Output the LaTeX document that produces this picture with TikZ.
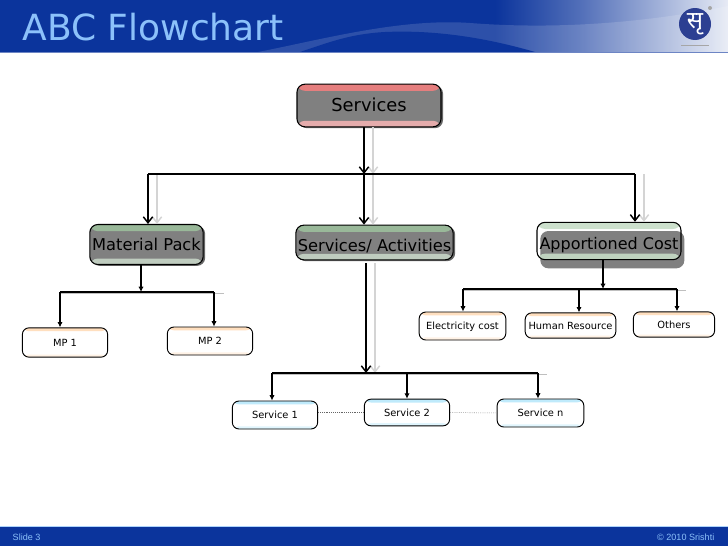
\documentclass[tikz,border=0pt]{standalone}
\usepackage{fontspec}
\setmainfont{DejaVu Sans}
\newfontfamily\footfont{Liberation Sans}
\newfontfamily\devafont[Script=Devanagari]{Noto Sans}
\usetikzlibrary{arrows.meta,shadows}
\definecolor{headblue}{HTML}{0B349C}
\definecolor{titleblue}{HTML}{8CC1FA}
\definecolor{boxgray}{HTML}{808080}
\definecolor{logoblue}{HTML}{2C3F92}
\pgfdeclarehorizontalshading{headshade}{100bp}{
  color(0bp)=(headblue); color(59bp)=(headblue); color(65bp)=(headblue!70!white);
  color(75bp)=(headblue!10!white); color(100bp)=(headblue!10!white)}
\tikzset{
  bigbox/.style={draw=black, line width=0.8pt, rounded corners=6pt, inner sep=0pt,
    text height=9pt, text depth=0pt, font=\fontsize{#1}{#1}\selectfont},
  softshadow/.style={fill=boxgray, general shadow={shadow xshift=1.5pt, shadow yshift=-1pt, fill=black!60}},
  smallbox/.style={draw=black, line width=0.7pt, rounded corners=5pt, fill=white, inner sep=0pt,
    text height=5.5pt, text depth=0pt, font=\fontsize{7.4}{9}\selectfont},
  bands/.style 2 args={path picture={
    \fill[#1] (path picture bounding box.north west) rectangle
      ([yshift=-5pt]path picture bounding box.north east);
    \fill[#2] (path picture bounding box.south west) rectangle
      ([yshift=4.5pt]path picture bounding box.south east);}},
  thinbands/.style 2 args={path picture={
    \fill[#1] (path picture bounding box.north west) rectangle
      ([yshift=-2.5pt]path picture bounding box.north east);
    \fill[#2] (path picture bounding box.south west) rectangle
      ([yshift=2pt]path picture bounding box.south east);}},
  openline/.style={line width=1.2pt, -{Straight Barb[length=4.5pt,width=7pt,line width=1.1pt]}},
  ghostline/.style={openline, draw=black!17},
  busline/.style={line width=1.4pt},
  dropline/.style={line width=2pt, -{Latex[length=4pt,width=4pt]}},
  ghostbus/.style={line width=1.2pt, draw=black!25}
}
\begin{document}
\begin{tikzpicture}[x=0.75pt,y=-0.75pt]
  \useasboundingbox (0,0) rectangle (728,546);
  % header and footer
  \shade[shading=headshade] (0,0) rectangle (728,52);
  \fill[white,opacity=0.14] (258,52) .. controls (320,40) and (400,18) .. (470,23)
    .. controls (560,30) and (650,22) .. (728,6) -- (728,52) -- cycle;
  \fill[headblue] (300,52) .. controls (330,42) and (350,34) .. (385,32)
    .. controls (430,30) and (480,36) .. (535,52) -- cycle;
  \fill[headblue!60!white] (0,51.5) rectangle (728,53);
  \node[text=titleblue, font=\fontsize{27}{30}\selectfont, anchor=west] (title) at (18,27.5) {ABC Flowchart};
  \fill[logoblue] (695,24) circle (16);
  \fill[black!35] (710,8) circle (2);
  \draw[black!35] (681,45) -- (709,45);
  \node[text=white, font=\devafont\fontsize{18}{20}\selectfont] (logo) at (695,24) {सृ};
  \fill[headblue] (0,527) rectangle (728,546);
  \fill[titleblue!70!white] (0,526) rectangle (728,527);
  \node[text=titleblue, font=\footfont\fontsize{6.8}{8}\selectfont, anchor=west] (slide) at (8,537) {Slide 3};
  \node[text=titleblue, font=\footfont\fontsize{6.8}{8}\selectfont, anchor=east] (copy) at (719,537) {© 2010 Srishti};

  % bus joints
  \coordinate (b1) at (148,174);
  \coordinate (b2) at (364,174);
  \coordinate (b3) at (635,174);
  \coordinate (m1) at (60,292);
  \coordinate (m2) at (141,292);
  \coordinate (m3) at (214,292);
  \coordinate (a1) at (463,289);
  \coordinate (a2) at (603,289);
  \coordinate (a3) at (579,289);
  \coordinate (a4) at (677,289);
  \coordinate (s1) at (272,373);
  \coordinate (s2) at (366,373);
  \coordinate (s3) at (407,373);
  \coordinate (s4) at (538,373);

  % main boxes
  \node[bigbox=13.4, softshadow, bands={red!45!white!90!black}{red!25!white!90!black}, minimum width=108pt, minimum height=32pt] (services) at (369,105.5) {Services};
  \node[bigbox=12.2, softshadow, bands={green!30!black!40!white}{green!20!black!25!white}, minimum width=85pt, minimum height=30pt] (matpack) at (146.5,244.5) {Material Pack};
  \node[bigbox=12.2, softshadow, bands={green!30!black!40!white}{green!20!black!25!white}, minimum width=118pt, minimum height=26pt] (activities) at (374.5,242.5) {\raisebox{-2.5pt}{Services/ Activities}};
  \node[bigbox=12, general shadow={shadow xshift=2.5pt, shadow yshift=-6.5pt, fill=boxgray},
    bands={green!40!black!20!white}{green!30!black!25!white}, minimum width=108pt, minimum height=28pt] (apcost) at (609,241) {\raisebox{-1.5pt}{Apportioned Cost}};

  % small boxes
  \node[smallbox, thinbands={orange!25!white}{orange!10!white}, minimum width=64pt, minimum height=22pt] (mp1) at (65,342.5) {MP 1};
  \node[smallbox, thinbands={orange!25!white}{orange!10!white}, minimum width=64pt, minimum height=21pt] (mp2) at (210,341) {MP 2};
  \node[smallbox, thinbands={orange!25!white}{orange!10!white}, minimum width=65pt, minimum height=21pt] (elec) at (462.5,326) {Electricity cost};
  \node[smallbox, thinbands={orange!25!white}{orange!10!white}, minimum width=68pt, minimum height=19pt] (human) at (570.5,325.5) {Human Resource};
  \node[smallbox, thinbands={orange!25!white}{orange!10!white}, minimum width=61pt, minimum height=19pt] (others) at (674,324.5) {Others};
  \node[smallbox, thinbands={cyan!25!white}{cyan!12!white}, minimum width=64pt, minimum height=21pt] (serv1) at (275,415) {Service 1};
  \node[smallbox, thinbands={cyan!25!white}{cyan!12!white}, minimum width=64pt, minimum height=20pt] (serv2) at (407,412.5) {Service 2};
  \node[smallbox, thinbands={cyan!25!white}{cyan!12!white}, minimum width=65pt, minimum height=21pt] (servn) at (540.5,413) {Service n};

  % grey copies of the lines
  \draw[ghostline] ([xshift=6.75pt]services.south -| b2) -- ([xshift=6.75pt]b2);
  \draw[ghostline] ([xshift=6.75pt]b1) -- ([xshift=6.75pt]b1 |- matpack.north);
  \draw[ghostline] ([xshift=6.75pt]b2) -- ([xshift=6.75pt]b2 |- activities.north);
  \draw[ghostline] ([xshift=6.75pt]b3) -- ([xshift=6.75pt]b3 |- apcost.north);
  \draw[ghostline] ([xshift=6.75pt,yshift=-2pt]s2 |- activities.south) -- ([xshift=6.75pt]s2);
  \draw[ghostbus] ([yshift=-1pt]m1) -- ([xshift=7.5pt,yshift=-1pt]m3);
  \draw[ghostbus] ([yshift=-1pt]a1) -- ([xshift=7pt,yshift=-1pt]a4);
  \draw[ghostbus] ([yshift=-1pt]s1) -- ([xshift=7pt,yshift=-1pt]s4);

  % black lines
  \draw[openline] (services.south -| b2) -- (b2);
  \draw[busline] (b1) -- (b3);
  \draw[openline] (b1) -- (b1 |- matpack.north);
  \draw[openline] (b2) -- (b2 |- activities.north);
  \draw[openline] (b3) -- (b3 |- apcost.north);
  \draw[dropline] (matpack.south -| m2) -- (m2);
  \draw[busline] (m1) -- (m3);
  \draw[dropline] (m1) -- (m1 |- mp1.north);
  \draw[dropline] (m3) -- (m3 |- mp2.north);
  \draw[dropline] (apcost.south -| a2) -- (a2);
  \draw[busline] (a1) -- (a4);
  \draw[dropline] (a1) -- (a1 |- elec.north);
  \draw[dropline] (a3) -- (a3 |- human.north);
  \draw[dropline] (a4) -- (a4 |- others.north);
  \draw[openline] ([yshift=-2pt]s2 |- activities.south) -- (s2);
  \draw[busline] (s1) -- (s4);
  \draw[dropline] (s1) -- (s1 |- serv1.north);
  \draw[dropline] (s3) -- (s3 |- serv2.north);
  \draw[dropline] (s4) -- (s4 |- servn.north);
  \draw[densely dotted, black!60] (serv1.east |- serv2) -- (serv2);
  \draw[densely dotted, black!60] (serv2) -- (servn);
\end{tikzpicture}
\end{document}
